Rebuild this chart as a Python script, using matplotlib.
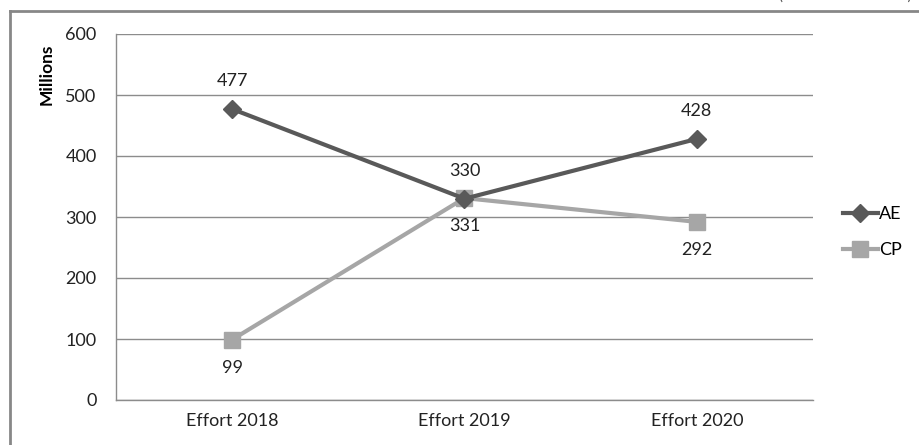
import matplotlib
matplotlib.use("Agg")
import matplotlib.pyplot as plt
from matplotlib.lines import Line2D

plt.rcParams['font.family'] = ['Lato', 'DejaVu Sans']

categories = ["Effort 2018", "Effort 2019", "Effort 2020"]
ae_values = [477, 330, 428]
cp_values = [99, 331, 292]
series_names = ["AE", "CP"]
y_ticks = [0, 100, 200, 300, 400, 500, 600]
y_label = "Millions"
note = "(en millions d'euros)"

W, H = 920, 445
fig = plt.figure(figsize=(W / 100, H / 100), dpi=100)
ax = fig.add_axes([116 / W, 1 - 400 / H, (813 - 116) / W, (400 - 34) / H])

x = list(range(len(categories)))
ae_col = "#595959"
cp_col = "#a6a6a6"
ax.plot(x, ae_values, color=ae_col, lw=3, marker="D", ms=9, mec=ae_col, mfc=ae_col,
        label=series_names[0], zorder=4)
ax.plot(x, cp_values, color=cp_col, lw=3, marker="s", ms=11, mec=cp_col, mfc=cp_col,
        label=series_names[1], zorder=3)

for xi, v in zip(x, ae_values):
    ax.annotate(str(v), (xi, v), xytext=(0, 28), textcoords="offset pixels",
                ha="center", va="center", fontsize=13, color="#222222")
for xi, v in zip(x, cp_values):
    ax.annotate(str(v), (xi, v), xytext=(0, -28), textcoords="offset pixels",
                ha="center", va="center", fontsize=13, color="#222222")

ax.set_xlim(-0.5, 2.5)
ax.set_ylim(0, 600)
ax.set_yticks(y_ticks)
ax.set_xticks(x)
ax.set_xticklabels(categories)
ax.tick_params(axis="both", length=0, labelsize=13, colors="#222222")
ax.tick_params(axis="y", pad=14)
ax.tick_params(axis="x", pad=9)
ax.grid(axis="y", color="#8c8c8c", lw=1)
ax.set_axisbelow(True)
for s in ["right", "top"]:
    ax.spines[s].set_visible(False)
for s in ["left", "bottom"]:
    ax.spines[s].set_color("#8c8c8c")
    ax.spines[s].set_linewidth(1)

fig.text(47 / W, 1 - 74 / H, y_label, rotation=90, ha="center", va="center",
         fontsize=12.5, fontweight="bold", color="#000000")

leg = ax.legend(loc="center left", bbox_to_anchor=(836 / W, 1 - 232 / H),
                bbox_transform=fig.transFigure, frameon=False, fontsize=13,
                handlelength=1.9, handletextpad=0.1, labelspacing=1.1,
                borderaxespad=0)

# outer frame
fig.add_artist(Line2D([10 / W, 10 / W], [0, 1 - 11 / H], transform=fig.transFigure,
                      color="#878787", lw=2))
fig.add_artist(Line2D([10 / W, 1], [1 - 11 / H, 1 - 11 / H], transform=fig.transFigure,
                      color="#878787", lw=2))
fig.text(912 / W, 1 + 4 / H, note, ha="right", va="center", fontsize=11, color="#555555")

fig.savefig("out.png", dpi=100)
